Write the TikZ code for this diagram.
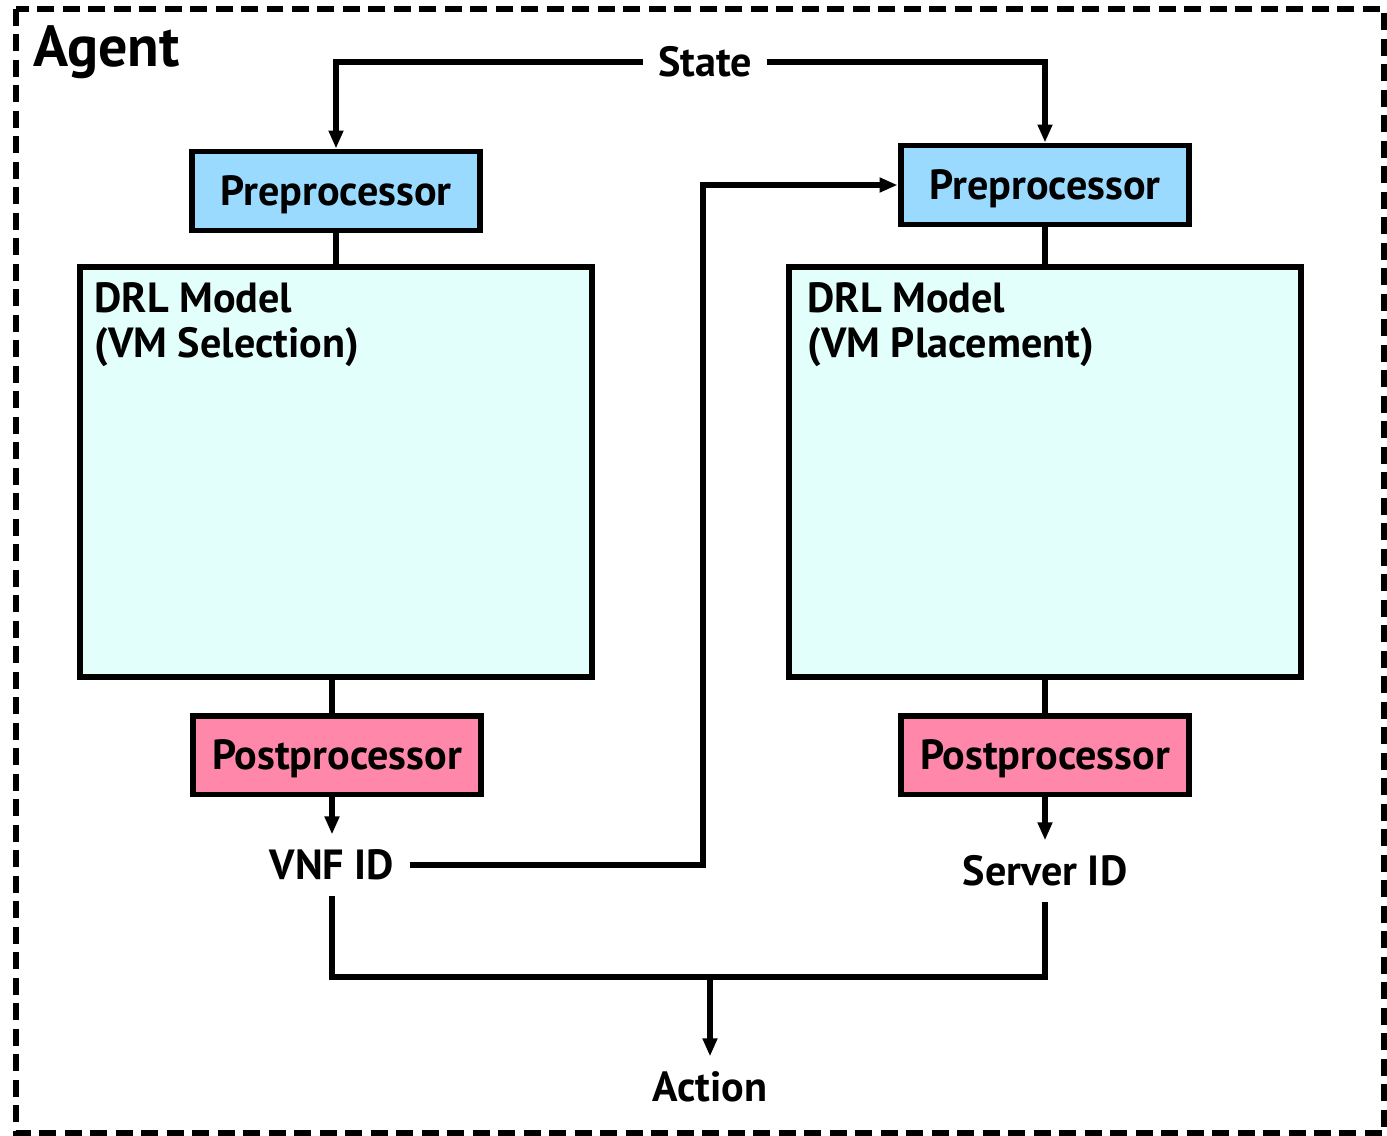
\documentclass[tikz,border=0pt]{standalone}
\usepackage{xcolor}
\usepackage{tikz}
\usepackage{fontspec}
\setmainfont{PT Sans}
\usetikzlibrary{shapes,arrows.meta,positioning,calc}
\definecolor{prefill}{RGB}{155,218,255}
\definecolor{modelfill}{RGB}{227,255,251}
\definecolor{postfill}{RGB}{255,136,170}

\begin{document}
\begin{tikzpicture}[x=0.02cm, y=-0.02cm,
    stage/.style={rectangle, draw=black, line width=3.4pt, minimum width=5.78cm, minimum height=1.58cm, font=\fontsize{24}{28}\selectfont\bfseries, inner sep=0pt, text height=0.64cm, text depth=0.05cm},
    pre/.style={stage, fill=prefill},
    post/.style={stage, fill=postfill},
    model/.style={rectangle, draw=black, line width=3.4pt, fill=modelfill, minimum width=10.26cm, minimum height=8.22cm, inner sep=0pt},
    caption/.style={font=\fontsize{24}{26}\selectfont\bfseries, align=left, anchor=north west, inner sep=0pt},
    io/.style={font=\fontsize{24}{28}\selectfont\bfseries, inner sep=0.3cm},
    wire/.style={line width=2.9pt},
    arrow/.style={wire, -{Triangle[length=0.36cm, width=0.28cm]}}
]
    \useasboundingbox (0,0) rectangle (1387,1136);
    \draw[line width=2.9pt, dash pattern=on 0.34cm off 0.17cm] (16,9) rectangle (1384,1133);
    \node[font=\fontsize{33}{38}\selectfont\bfseries, anchor=north west, inner sep=0pt] (agent) at (33,25) {Agent};

    \node[io] (state) at (705,62) {State};
    \node[pre] (preL) at (336,191) {Preprocessor};
    \node[pre] (preR) at (1045,185) {Preprocessor};
    \node[model] (drlL) at (336,472) {};
    \node[model] (drlR) at (1045,472) {};
    \node[caption] (capL) at (94,282) {DRL Model\\(VM Selection)};
    \node[caption] (capR) at (807,282) {DRL Model\\(VM Placement)};
    \node[post] (postL) at (337,755) {Postprocessor};
    \node[post] (postR) at (1045,755) {Postprocessor};
    \node[io] (vnf) at (332,865) {VNF ID};
    \node[io] (srv) at (1045,871) {Server ID};
    \node[io] (action) at (710,1087) {Action};

    \coordinate (hop) at (703,865);
    \coordinate (join) at (710,977);

    \draw[arrow] (state.west) -| (preL.north);
    \draw[arrow] (state.east) -| (preR.north);
    \draw[wire] (preL.south) -- (preL.south |- drlL.north);
    \draw[wire] (preR.south) -- (preR.south |- drlR.north);
    \draw[wire] (vnf.north |- drlL.south) -- (vnf.north |- postL.north);
    \draw[wire] (postR.north |- drlR.south) -- (postR.north);
    \draw[arrow] (vnf.north |- postL.south) -- (vnf.north);
    \draw[arrow] (postR.south) -- (srv.north);
    \draw[arrow] (vnf.east) -- (hop) |- (preR.west);
    \draw[wire] (vnf.south) |- (join) -| (srv.south);
    \draw[arrow] (join) -- (action.north);
\end{tikzpicture}
\end{document}
